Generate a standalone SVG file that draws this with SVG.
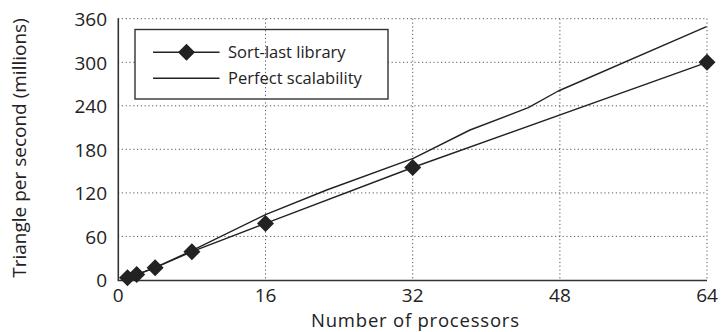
<svg xmlns="http://www.w3.org/2000/svg" width="728" height="332" viewBox="0 0 728 332">
  <style>
    .grid { stroke: #555; stroke-width: 1; stroke-dasharray: 1.2 2.6; fill: none; }
    .axis { stroke: #333; stroke-width: 1.6; fill: none; }
    .series { stroke: #222; stroke-width: 1.4; fill: none; stroke-linejoin: round; }
    .lbl { font-family: "Open Sans", "Liberation Sans", sans-serif; font-size: 19px; fill: #222; }
    .ttl { font-family: "Open Sans", "Liberation Sans", sans-serif; font-size: 18.5px; fill: #222; }
    .leg { font-family: "Open Sans", "Liberation Sans", sans-serif; font-size: 16.5px; fill: #222; }
  </style>
  <defs>
    <path id="dia" d="M0,-8.5 L8.5,0 L0,8.5 L-8.5,0 Z" fill="#222"/>
  </defs>

  <!-- horizontal grid -->
  <g id="hgrid">
    <path class="grid" d="M118,236.4 H707 M118,192.9 H707 M118,149.3 H707 M118,105.8 H707 M118,62.3 H707 M118,18.7 H707"/>
  </g>

  <!-- legend -->
  <g id="legend">
    <rect x="135" y="29.5" width="253" height="69.5" fill="#fff" stroke="#333" stroke-width="1.4"/>
    <line x1="153" y1="52.3" x2="219.5" y2="52.3" class="series"/>
    <use href="#dia" x="186.5" y="52.3"/>
    <line x1="153" y1="78.3" x2="219.5" y2="78.3" class="series"/>
    <text class="leg" x="228" y="58">Sort-last library</text>
    <text class="leg" x="228" y="84">Perfect scalability</text>
  </g>

  <!-- vertical grid -->
  <g id="vgrid">
    <path class="grid" d="M265.5,18.7 V280 M412.7,18.7 V280 M559.9,18.7 V280 M707,18.7 V280"/>
  </g>

  <!-- axes -->
  <g id="axes">
    <path class="axis" d="M118.3,18.3 V280.5 H707"/>
  </g>

  <!-- tick labels -->
  <g id="ylabels" class="lbl" text-anchor="end">
    <text x="107" y="287">0</text>
    <text x="107" y="243.5">60</text>
    <text x="107" y="200">120</text>
    <text x="107" y="156.5">180</text>
    <text x="107" y="113">240</text>
    <text x="107" y="69.5">300</text>
    <text x="107" y="26">360</text>
  </g>
  <g id="xlabels" class="lbl" text-anchor="middle">
    <text x="118.3" y="302">0</text>
    <text x="265.5" y="302">16</text>
    <text x="412.7" y="302">32</text>
    <text x="559.9" y="302">48</text>
    <text x="707" y="302">64</text>
  </g>

  <!-- axis titles -->
  <text id="xtitle" class="ttl" x="415" y="326.5" text-anchor="middle" textLength="208" lengthAdjust="spacing">Number of processors</text>
  <text id="ytitle" class="lbl" transform="translate(26,148) rotate(-90)" text-anchor="middle">Triangle per second (millions)</text>

  <!-- data series -->
  <g id="connectors">
    <polyline class="series" points="127.5,277.8 136.7,274.6 155.1,267.7 191.9,250.6 265.5,214.7 326.7,190 413.3,158.3 470,130 528.3,107.7 558.3,91 706.5,26.7"/>
    <polyline class="series" points="127.5,277.8 136.7,274.6 155.1,267.7 191.9,251.7 265.5,223.4 412.7,167.5 707,62.3"/>
  </g>

  <g id="markers">
    <use href="#dia" x="127.5" y="277.8"/>
    <use href="#dia" x="136.7" y="274.6"/>
    <use href="#dia" x="155.1" y="267.7"/>
    <use href="#dia" x="191.9" y="251.7"/>
    <use href="#dia" x="265.5" y="223.4"/>
    <use href="#dia" x="412.7" y="167.5"/>
    <use href="#dia" x="707" y="62.3"/>
  </g>
</svg>
